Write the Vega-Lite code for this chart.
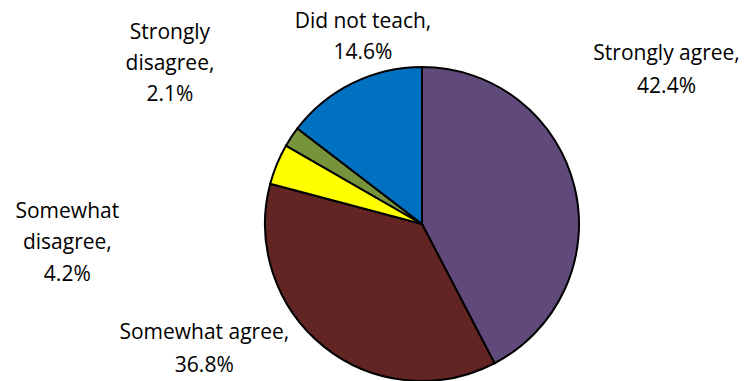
{
  "$schema": "https://vega.github.io/schema/vega-lite/v6.json",
  "autosize": {"type": "none"},
  "width": 658,
  "height": 314,
  "padding": {"left": 93, "top": 67, "right": 0, "bottom": 0},
  "background": "white",
  "config": {"view": {"stroke": null}},
  "data": {"values": [
    {"category": "Strongly agree", "pct": 42.4, "rank": 1},
    {"category": "Somewhat agree", "pct": 36.8, "rank": 2},
    {"category": "Somewhat disagree", "pct": 4.2, "rank": 3},
    {"category": "Strongly disagree", "pct": 2.1, "rank": 4},
    {"category": "Did not teach", "pct": 14.6, "rank": 5}
  ]},
  "transform": [
    {"calculate": "datum.category + ',\\n' + format(datum.pct, '.1f') + '%'", "as": "label2"},
    {"calculate": "datum.category + ', ' + format(datum.pct, '.1f') + '%'", "as": "label3"}
  ],
  "encoding": {
    "theta": {"field": "pct", "type": "quantitative", "stack": true},
    "order": {"field": "rank", "type": "quantitative"},
    "detail": {"field": "category", "type": "nominal"}
  },
  "layer": [
    {
      "mark": {"type": "arc", "stroke": "black", "strokeWidth": 2},
      "encoding": {
        "color": {
          "field": "category", "type": "nominal",
          "scale": {
            "domain": ["Strongly agree", "Somewhat agree", "Somewhat disagree", "Strongly disagree", "Did not teach"],
            "range": ["#604A7B", "#632523", "#FFFF00", "#77933C", "#0070C0"]
          },
          "legend": null
        }
      }
    },
    {
      "mark": {"type": "text", "radius": 190, "dx": 60, "dy": -125, "font": "Open Sans", "fontSize": 21, "lineBreak": "\n", "lineHeight": 33, "align": "center", "baseline": "middle", "fill": "black"},
      "encoding": {"text": {"condition": {"test": "datum.category === 'Strongly agree'", "field": "label2"}, "value": ""}}
    },
    {
      "mark": {"type": "text", "radius": 190, "dx": -99, "dy": -39, "font": "Open Sans", "fontSize": 21, "lineBreak": "\n", "lineHeight": 33, "align": "center", "baseline": "middle", "fill": "black"},
      "encoding": {"text": {"condition": {"test": "datum.category === 'Somewhat agree'", "field": "label2"}, "value": ""}}
    },
    {
      "mark": {"type": "text", "radius": 190, "dx": -179, "dy": 60, "font": "Open Sans", "fontSize": 21, "lineBreak": " ", "lineHeight": 31.5, "align": "center", "baseline": "middle", "fill": "black"},
      "encoding": {"text": {"condition": {"test": "datum.category === 'Somewhat disagree'", "field": "label3"}, "value": ""}}
    },
    {
      "mark": {"type": "text", "radius": 190, "dx": -94, "dy": -86, "font": "Open Sans", "fontSize": 21, "lineBreak": " ", "lineHeight": 31, "align": "center", "baseline": "middle", "fill": "black"},
      "encoding": {"text": {"condition": {"test": "datum.category === 'Strongly disagree'", "field": "label3"}, "value": ""}}
    },
    {
      "mark": {"type": "text", "radius": 190, "dx": 25, "dy": -32, "font": "Open Sans", "fontSize": 21, "lineBreak": "\n", "lineHeight": 31, "align": "center", "baseline": "middle", "fill": "black"},
      "encoding": {"text": {"condition": {"test": "datum.category === 'Did not teach'", "field": "label2"}, "value": ""}}
    }
  ]
}
